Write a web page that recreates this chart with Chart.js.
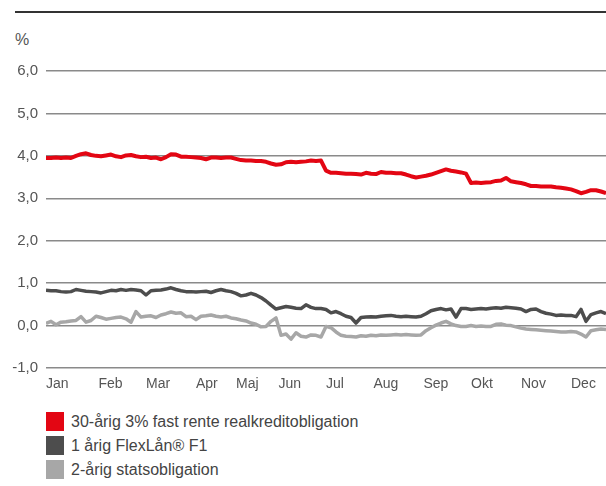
<!DOCTYPE html>
<html>
<head>
<meta charset="utf-8">
<script src="https://cdn.jsdelivr.net/npm/chart.js@4"></script>
<style>
  body { margin: 0; background: #fff; font-family: "Liberation Sans", Arial, sans-serif; }
  #wrap { position: relative; width: 606px; height: 486px; overflow: hidden; }
  #rule { position: absolute; top: 11px; left: 15px; right: 0; height: 2px; background: #333; }
  #unit { position: absolute; top: 31px; left: 15px; font-size: 16px; color: #555; }
  #chart { position: absolute; top: 0; left: 0; }
  #legend { position: absolute; top: 412px; left: 46px; font-size: 16px; color: #444; }
  #legend div { height: 24px; line-height: 19px; white-space: nowrap; }
  #legend span { display: inline-block; width: 18px; height: 19px; vertical-align: top; margin-right: 7px; }
</style>
</head>
<body>
<div id="wrap">
  <div id="rule"></div>
  <div id="unit">%</div>
  <canvas id="chart" width="606" height="400"></canvas>
  <div id="legend"></div>
</div>
<script>
// ========= Data =========
const seriesNames = ["30-årig 3% fast rente realkreditobligation", "1 årig FlexLån® F1", "2-årig statsobligation"];
const seriesColors = ["#e30613", "#4d4d4d", "#a7a7a7"];

const months = ["Jan", "Feb", "Mar", "Apr", "Maj", "Jun", "Jul", "Aug", "Sep", "Okt", "Nov", "Dec"];
// position of each month's start on the sample axis
const monthStart = [0, 10.5, 20, 30, 38, 46.5, 56, 65.5, 75.5, 85, 95, 105];

const yTicks = [-1, 0, 1, 2, 3, 4, 5, 6];

// 30-årig realkreditobligation
const bond30 = [
  3.95, 3.95, 3.96, 3.95, 3.96, 3.95, 4.00, 4.04, 4.06, 4.02,
  4.00, 3.99, 4.01, 4.03, 3.99, 3.97, 4.01, 4.02, 3.99, 3.97,
  3.98, 3.95, 3.96, 3.92, 3.97, 4.04, 4.03, 3.98, 3.98, 3.97,
  3.96, 3.95, 3.92, 3.96, 3.96, 3.95, 3.96, 3.96, 3.93, 3.90,
  3.89, 3.89, 3.88, 3.88, 3.86, 3.82, 3.79, 3.80, 3.85, 3.86,
  3.85, 3.86, 3.87, 3.89, 3.88, 3.89, 3.65, 3.60, 3.60, 3.59,
  3.58, 3.58, 3.57, 3.56, 3.60, 3.58, 3.57, 3.62, 3.60, 3.60,
  3.59, 3.59, 3.56, 3.52, 3.49, 3.51, 3.53, 3.56, 3.60, 3.64,
  3.68, 3.65, 3.63, 3.61, 3.58, 3.36, 3.37, 3.36, 3.37, 3.38,
  3.41, 3.42, 3.48, 3.40, 3.38, 3.36, 3.33, 3.29, 3.29, 3.28,
  3.28, 3.28, 3.26, 3.25, 3.23, 3.21, 3.17, 3.12, 3.15, 3.19,
  3.19, 3.16, 3.12
];

// 1 årig FlexLån F1
const flexF1 = [
  0.83, 0.82, 0.82, 0.80, 0.79, 0.80, 0.85, 0.83, 0.81, 0.80,
  0.79, 0.77, 0.80, 0.83, 0.82, 0.85, 0.83, 0.85, 0.84, 0.82,
  0.72, 0.82, 0.83, 0.84, 0.86, 0.89, 0.85, 0.82, 0.80, 0.80,
  0.79, 0.80, 0.81, 0.78, 0.82, 0.85, 0.82, 0.80, 0.76, 0.70,
  0.72, 0.76, 0.72, 0.66, 0.58, 0.48, 0.39, 0.42, 0.45, 0.43,
  0.41, 0.40, 0.49, 0.43, 0.40, 0.40, 0.38, 0.30, 0.33, 0.28,
  0.22, 0.19, 0.06, 0.19, 0.20, 0.21, 0.20, 0.22, 0.23, 0.24,
  0.22, 0.21, 0.22, 0.21, 0.20, 0.22, 0.28, 0.35, 0.38, 0.40,
  0.37, 0.39, 0.20, 0.40, 0.40, 0.38, 0.39, 0.40, 0.39, 0.41,
  0.42, 0.41, 0.43, 0.42, 0.41, 0.39, 0.33, 0.38, 0.39, 0.33,
  0.29, 0.27, 0.24, 0.25, 0.24, 0.24, 0.21, 0.38, 0.10, 0.26,
  0.30, 0.33, 0.28
];

// 2-årig statsobligation
const gov2 = [
  0.05, 0.10, 0.02, 0.08, 0.09, 0.11, 0.12, 0.21, 0.08, 0.12,
  0.22, 0.19, 0.15, 0.17, 0.19, 0.20, 0.16, 0.08, 0.33, 0.20,
  0.22, 0.23, 0.19, 0.25, 0.28, 0.32, 0.29, 0.30, 0.21, 0.22,
  0.14, 0.22, 0.23, 0.25, 0.22, 0.20, 0.22, 0.18, 0.16, 0.13,
  0.11, 0.06, 0.03, -0.03, -0.02, 0.10, 0.18, -0.23, -0.20, -0.32,
  -0.17, -0.25, -0.27, -0.22, -0.23, -0.27, -0.02, -0.05, -0.15, -0.23,
  -0.25, -0.26, -0.27, -0.24, -0.25, -0.23, -0.24, -0.22, -0.23, -0.22,
  -0.21, -0.22, -0.21, -0.22, -0.23, -0.22, -0.12, -0.05, 0.01, 0.06,
  0.10, 0.04, 0.00, -0.02, -0.02, 0.00, -0.02, -0.01, -0.02, -0.02,
  0.03, 0.04, 0.01, 0.00, -0.03, -0.06, -0.08, -0.09, -0.10, -0.11,
  -0.12, -0.13, -0.14, -0.15, -0.15, -0.14, -0.15, -0.20, -0.27, -0.12,
  -0.10, -0.08, -0.09
];

// ========= Chart =========
const allSeries = [bond30, flexF1, gov2];
const widths = [4, 3.5, 3.5];

const datasets = allSeries.map((vals, s) => ({
  label: seriesNames[s],
  data: vals.map((v, i) => ({ x: i, y: v })),
  borderColor: seriesColors[s],
  backgroundColor: seriesColors[s],
  borderWidth: widths[s],
  pointRadius: 0,
  tension: 0,
  borderJoinStyle: 'round'
}));

const tickFont = { family: "'Liberation Sans', Arial, sans-serif", size: 14 };

new Chart(document.getElementById('chart').getContext('2d'), {
  type: 'line',
  data: { datasets: datasets },
  options: {
    responsive: false,
    animation: false,
    devicePixelRatio: 1,
    layout: { padding: { top: 71, left: 0, right: 0, bottom: 0 } },
    plugins: { legend: { display: false }, tooltip: { enabled: false } },
    scales: {
      x: {
        type: 'linear',
        min: 0,
        max: bond30.length - 1,
        grid: { display: false, drawTicks: false },
        border: { display: false },
        afterBuildTicks: (scale) => { scale.ticks = monthStart.map(v => ({ value: v })); },
        afterFit: (scale) => { scale.height = 32; },
        ticks: {
          autoSkip: false,
          maxRotation: 0,
          align: 'start',
          padding: 8,
          color: '#555',
          font: tickFont,
          callback: (v, i) => months[i]
        }
      },
      y: {
        min: -1,
        max: 6,
        afterBuildTicks: (scale) => { scale.ticks = yTicks.map(v => ({ value: v })); },
        afterFit: (scale) => { scale.width = 46; },
        grid: { color: '#8a8a8a', lineWidth: 1.5, drawTicks: false },
        border: { display: false },
        ticks: {
          padding: 8,
          color: '#555',
          font: { family: "'Liberation Sans', Arial, sans-serif", size: 15 },
          callback: (v) => v.toFixed(1).replace('.', ',')
        }
      }
    }
  }
});

// ========= Legend =========
const legend = document.getElementById('legend');
seriesNames.forEach((name, s) => {
  const row = document.createElement('div');
  row.innerHTML = '<span style="background:' + seriesColors[s] + '"></span>' + name;
  legend.appendChild(row);
});
</script>
</body>
</html>
